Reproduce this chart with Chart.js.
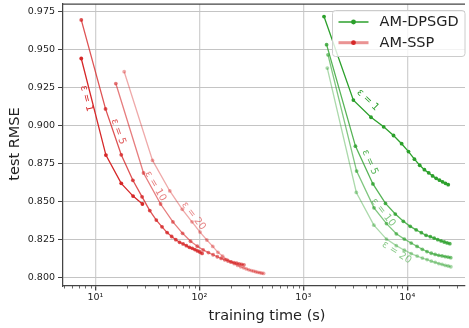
<!DOCTYPE html>
<html><head><meta charset="utf-8">
<script src="https://cdn.jsdelivr.net/npm/chart.js@4.4.0/dist/chart.umd.min.js"></script>
<style>html,body{margin:0;padding:0;background:#fff;}canvas{display:block;}</style>
</head><body>
<canvas id="c" width="469" height="328"></canvas>
<script>
// ---------- data ----------
const epsLabels = ['ε = 1', 'ε = 5', 'ε = 10', 'ε = 20'];
const seriesNames = ['AM-DPSGD', 'AM-SSP'];

// AM-SSP (red): training time (s) and test RMSE
const ssp_t_e1 = [7.3, 12.6, 17.7, 23.0, 28.3];
const ssp_y_e1 = [0.9439, 0.8803, 0.8617, 0.8533, 0.8481];
const ssp_t_e5 = [7.3, 12.5, 17.7, 22.9, 28.1, 33.3, 38.5, 43.7, 48.9, 54.1, 59.3, 64.5, 69.7, 74.9, 80.1, 85.3, 90.5, 95.7, 100.9, 106.1];
const ssp_y_e5 = [0.9693, 0.9107, 0.8805, 0.8637, 0.8528, 0.8438, 0.8375, 0.8331, 0.8293, 0.8267, 0.8246, 0.8229, 0.8218, 0.8207, 0.8196, 0.8189, 0.8181, 0.8172, 0.8165, 0.8156];
const ssp_t_e10 = [15.7, 29.0, 42.3, 55.6, 68.9, 82.2, 95.5, 108.8, 122.1, 135.4, 148.7, 162.0, 175.3, 188.6, 201.9, 215.2, 228.5, 241.8, 255.1, 268.4];
const ssp_y_e10 = [0.9274, 0.8685, 0.8481, 0.8363, 0.8288, 0.8236, 0.8203, 0.8179, 0.8161, 0.8147, 0.8134, 0.8123, 0.8114, 0.8106, 0.8100, 0.8095, 0.8091, 0.8087, 0.8084, 0.8081];
const ssp_t_e20 = [18.9, 35.4, 51.9, 68.4, 84.9, 101.4, 117.9, 134.4, 150.9, 167.4, 183.9, 200.4, 216.9, 233.4, 249.9, 266.4, 282.9, 299.4, 315.9, 332.4, 348.9, 365.4, 381.9, 398.4, 414.9];
const ssp_y_e20 = [0.9352, 0.8768, 0.8567, 0.8446, 0.8364, 0.8296, 0.8244, 0.8202, 0.8163, 0.8137, 0.8115, 0.8100, 0.8088, 0.8077, 0.8068, 0.8061, 0.8054, 0.8048, 0.8043, 0.8039, 0.8035, 0.8031, 0.8029, 0.8026, 0.8024];

// AM-DPSGD (green)
const dp_t_e1 = [1582, 3032, 4482, 5932, 7382, 8832, 10282, 11732, 13182, 14632, 16082, 17532, 18982, 20432, 21882, 23332, 24782];
const dp_y_e1 = [0.9715, 0.9165, 0.9052, 0.8989, 0.8932, 0.8878, 0.8826, 0.8776, 0.8736, 0.8707, 0.8686, 0.8666, 0.8650, 0.8638, 0.8627, 0.8617, 0.8608];
const dp_t_e5 = [1675, 3175, 4675, 6175, 7675, 9175, 10675, 12175, 13675, 15175, 16675, 18175, 19675, 21175, 22675, 24175, 25675];
const dp_y_e5 = [0.9530, 0.8862, 0.8613, 0.8485, 0.8415, 0.8367, 0.8334, 0.8311, 0.8292, 0.8275, 0.8266, 0.8256, 0.8246, 0.8238, 0.8231, 0.8225, 0.8220];
const dp_t_e10 = [1728, 3258, 4788, 6318, 7848, 9378, 10908, 12438, 13968, 15498, 17028, 18558, 20088, 21618, 23148, 24678, 26208];
const dp_y_e10 = [0.9463, 0.8698, 0.8456, 0.8352, 0.8285, 0.8250, 0.8224, 0.8202, 0.8183, 0.8168, 0.8157, 0.8149, 0.8143, 0.8139, 0.8135, 0.8132, 0.8128];
const dp_t_e20 = [1701, 3237, 4773, 6309, 7845, 9381, 10917, 12453, 13989, 15525, 17061, 18597, 20133, 21669, 23205, 24741, 26277];
const dp_y_e20 = [0.9376, 0.8557, 0.8342, 0.8250, 0.8207, 0.8177, 0.8155, 0.8138, 0.8125, 0.8115, 0.8105, 0.8097, 0.8089, 0.8083, 0.8077, 0.8073, 0.8068];

// inline ε labels, anchored in data coordinates
const ssp_lab_t = [8.2, 16.6, 37.7, 87.9];
const ssp_lab_y = [0.9175, 0.8957, 0.8598, 0.8402];
const ssp_lab_ang = [76, 71, 60, 52];
const dp_lab_t = [4183, 4372, 5880, 7907];
const dp_lab_y = [0.9165, 0.8756, 0.8425, 0.8161];
const dp_lab_ang = [44, 66, 52, 33];

// axis ticks
const yTickValues = [0.800, 0.825, 0.850, 0.875, 0.900, 0.925, 0.950, 0.975];
const xMajorValues = [10, 100, 1000, 10000];
const xMajorLabels = ['10¹', '10²', '10³', '10⁴'];

// ---------- styling ----------
const RED = [214, 39, 40], GREEN = [44, 160, 44];
const ALPHAS = [1, 0.8, 0.6, 0.4];
const rgba = (c, a) => `rgba(${c[0]},${c[1]},${c[2]},${a})`;
const FONT = "'DejaVu Sans', sans-serif";
const X_MIN = 4.87, X_MAX = 35960, Y_MIN = 0.79413, Y_MAX = 0.97976;

const sspT = [ssp_t_e1, ssp_t_e5, ssp_t_e10, ssp_t_e20];
const sspY = [ssp_y_e1, ssp_y_e5, ssp_y_e10, ssp_y_e20];
const dpT = [dp_t_e1, dp_t_e5, dp_t_e10, dp_t_e20];
const dpY = [dp_y_e1, dp_y_e5, dp_y_e10, dp_y_e20];

function mk(ts, ys, col, a, name) {
  return {
    label: name,
    data: ts.map((t, i) => ({ x: t, y: ys[i] })),
    borderColor: rgba(col, a),
    backgroundColor: rgba(col, a),
    pointBackgroundColor: rgba(col, a),
    pointBorderWidth: 0,
    pointRadius: 1.9,
    borderWidth: 1.3,
    tension: 0,
    fill: false
  };
}
const datasets = [];
for (let i = 0; i < 4; i++) datasets.push(mk(sspT[i], sspY[i], RED, ALPHAS[i], seriesNames[1] + ' ' + epsLabels[i]));
for (let i = 0; i < 4; i++) datasets.push(mk(dpT[i], dpY[i], GREEN, ALPHAS[i], seriesNames[0] + ' ' + epsLabels[i]));

// x ticks: majors + minors
const xTickValues = [];
for (let d = 0; d <= 4; d++) for (let m = 1; m <= 9; m++) {
  const v = m * Math.pow(10, d);
  if (v >= X_MIN && v <= X_MAX) xTickValues.push(v);
}
const isMajor = v => xMajorValues.some(m => Math.abs(m - v) < 1e-6);

const decor = {
  id: 'decor',
  afterDatasetsDraw(chart) {
    const { ctx, scales: { x, y } } = chart;
    ctx.save();
    ctx.font = `10px ${FONT}`;
    ctx.textAlign = 'center';
    ctx.textBaseline = 'middle';
    const draw = (ts, ys, angs, col) => {
      for (let i = 0; i < 4; i++) {
        ctx.save();
        ctx.translate(x.getPixelForValue(ts[i]), y.getPixelForValue(ys[i]));
        ctx.rotate(angs[i] * Math.PI / 180);
        ctx.fillStyle = rgba(col, Math.max(ALPHAS[i], 0.55));
        ctx.fillText(epsLabels[i], 0, 0);
        ctx.restore();
      }
    };
    draw(ssp_lab_t, ssp_lab_y, ssp_lab_ang, RED);
    draw(dp_lab_t, dp_lab_y, dp_lab_ang, GREEN);
    ctx.restore();
  },
  afterDraw(chart) {
    const { ctx, chartArea: ca, scales: { x } } = chart;
    ctx.save();
    // top spine
    ctx.strokeStyle = '#444'; ctx.lineWidth = 1.25;
    ctx.beginPath(); ctx.moveTo(ca.left, ca.top); ctx.lineTo(ca.right, ca.top); ctx.stroke();
    // minor x ticks
    ctx.lineWidth = 0.8; ctx.strokeStyle = '#444';
    xTickValues.forEach(v => {
      if (isMajor(v)) return;
      const px = Math.round(x.getPixelForValue(v)) + 0.5;
      ctx.beginPath(); ctx.moveTo(px, ca.bottom); ctx.lineTo(px, ca.bottom + 2.5); ctx.stroke();
    });
    // axis titles
    ctx.fillStyle = '#222';
    ctx.font = `14.5px ${FONT}`;
    ctx.textAlign = 'center'; ctx.textBaseline = 'middle';
    ctx.fillText('training time (s)', 267, 316);
    ctx.save();
    ctx.translate(15, 144); ctx.rotate(-Math.PI / 2);
    ctx.fillText('test RMSE', 0, 0);
    ctx.restore();
    // legend
    const lx = 332.5, ly = 10.5, lw = 132.5, lh = 46;
    ctx.fillStyle = 'rgba(255,255,255,0.8)';
    ctx.strokeStyle = '#cccccc'; ctx.lineWidth = 1;
    ctx.beginPath(); ctx.roundRect(lx, ly, lw, lh, 3); ctx.fill(); ctx.stroke();
    const entries = [
      { name: seriesNames[0], line: rgba(GREEN, 1), lwid: 1.5, dot: rgba(GREEN, 1), yy: 22 },
      { name: seriesNames[1], line: rgba(RED, 0.5), lwid: 3, dot: rgba(RED, 1), yy: 42.7 }
    ];
    entries.forEach(e => {
      ctx.strokeStyle = e.line; ctx.lineWidth = e.lwid;
      ctx.beginPath(); ctx.moveTo(338.5, e.yy); ctx.lineTo(368.5, e.yy); ctx.stroke();
      ctx.fillStyle = e.dot;
      ctx.beginPath(); ctx.arc(353.5, e.yy, 2.4, 0, Math.PI * 2); ctx.fill();
      ctx.fillStyle = '#222';
      ctx.font = `14.5px ${FONT}`;
      ctx.textAlign = 'left'; ctx.textBaseline = 'middle';
      ctx.fillText(e.name, 379.5, e.yy + 0.5);
    });
    ctx.restore();
  }
};

const noPad = s => { s.paddingTop = 0; s.paddingBottom = 0; s.paddingLeft = 0; s.paddingRight = 0; };

new Chart(document.getElementById('c'), {
  type: 'line',
  data: { datasets },
  options: {
    responsive: false,
    animation: false,
    devicePixelRatio: 1,
    layout: { padding: { top: 2, right: 0, left: 0, bottom: 0 } },
    plugins: { legend: { display: false }, tooltip: { enabled: false } },
    scales: {
      x: {
        type: 'logarithmic',
        min: X_MIN, max: X_MAX,
        afterBuildTicks: s => { s.ticks = xTickValues.map(v => ({ value: v })); },
        afterFit: s => { s.height = 42; noPad(s); },
        border: { color: '#444', width: 1.25 },
        grid: {
          color: c => (c.tick && isMajor(c.tick.value)) ? '#d2d2d2' : 'rgba(0,0,0,0)',
          lineWidth: 1.3,
          tickColor: c => (c.tick && isMajor(c.tick.value)) ? '#444' : 'rgba(0,0,0,0)',
          tickLength: 4.5,
          drawTicks: true
        },
        ticks: {
          autoSkip: false, maxRotation: 0, minRotation: 0,
          padding: 1,
          color: '#222',
          font: { family: FONT, size: 9.5 },
          callback: v => { const i = xMajorValues.findIndex(m => Math.abs(m - v) < 1e-6); return i >= 0 ? xMajorLabels[i] : ''; }
        }
      },
      y: {
        type: 'linear',
        min: Y_MIN, max: Y_MAX,
        afterBuildTicks: s => { s.ticks = yTickValues.map(v => ({ value: v })); },
        afterFit: s => { s.width = 63; noPad(s); },
        border: { color: '#444', width: 1.25 },
        grid: { color: '#c4c4c4', lineWidth: 1, tickColor: '#444', tickLength: 5 },
        ticks: {
          padding: 3,
          color: '#222',
          font: { family: FONT, size: 9.5 },
          callback: v => v.toFixed(3)
        }
      }
    }
  },
  plugins: [decor]
});
</script>
</body></html>
